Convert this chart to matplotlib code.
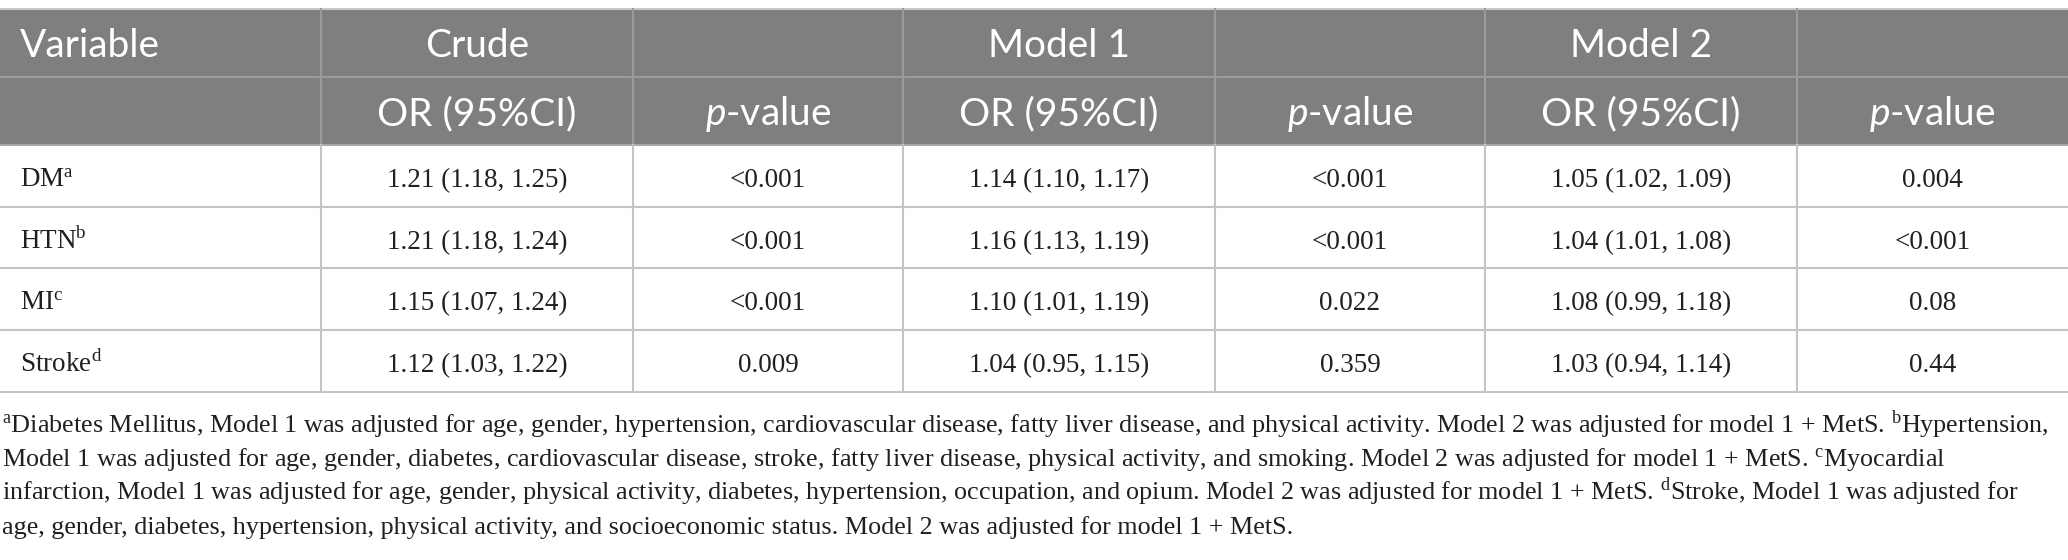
import matplotlib
matplotlib.use("Agg")
import matplotlib.pyplot as plt
from matplotlib.patches import Rectangle

# ---- table content ----
variables = ["DM", "HTN", "MI", "Stroke"]
var_marks = ["a", "b", "c", "d"]
crude_or = ["1.21 (1.18, 1.25)", "1.21 (1.18, 1.24)", "1.15 (1.07, 1.24)", "1.12 (1.03, 1.22)"]
crude_p = ["<0.001", "<0.001", "<0.001", "0.009"]
model1_or = ["1.14 (1.10, 1.17)", "1.16 (1.13, 1.19)", "1.10 (1.01, 1.19)", "1.04 (0.95, 1.15)"]
model1_p = ["<0.001", "<0.001", "0.022", "0.359"]
model2_or = ["1.05 (1.02, 1.09)", "1.04 (1.01, 1.08)", "1.08 (0.99, 1.18)", "1.03 (0.94, 1.14)"]
model2_p = ["0.004", "<0.001", "0.08", "0.44"]
group_labels = ["Crude", "Model 1", "Model 2"]
sub_labels = ["OR (95%CI)", r"$\mathit{p}$-value"]

footnote_lines = [
    r"$^{\mathrm{a}}$Diabetes Mellitus, Model 1 was adjusted for age, gender, hypertension, cardiovascular disease, "
    r"fatty liver disease, and physical activity. Model 2 was adjusted for model 1 + MetS. $^{\mathrm{b}}$Hypertension,",
    r"Model 1 was adjusted for age, gender, diabetes, cardiovascular disease, stroke, fatty liver disease, "
    r"physical activity, and smoking. Model 2 was adjusted for model 1 + MetS. $^{\mathrm{c}}$Myocardial",
    r"infarction, Model 1 was adjusted for age, gender, physical activity, diabetes, hypertension, occupation, "
    r"and opium. Model 2 was adjusted for model 1 + MetS. $^{\mathrm{d}}$Stroke, Model 1 was adjusted for",
    r"age, gender, diabetes, hypertension, physical activity, and socioeconomic status. "
    r"Model 2 was adjusted for model 1 + MetS.",
]

# ---- layout (pixels) ----
W, H = 2068, 560
col_edges = [0, 321, 633, 903, 1215, 1485, 1797, 2068]
header_rows = [9, 77, 145]
data_rows = [145, 207, 268, 330, 392]
foot_baselines = [433, 467, 500, 534]

HEAD_BG = "#7f807e"
HEAD_LINE = "#9b9c9a"
GRID = "#c4c4c4"
TEXT = "#231f20"

plt.rcParams["mathtext.fontset"] = "custom"
plt.rcParams["mathtext.rm"] = "Liberation Serif"
plt.rcParams["mathtext.it"] = "Lato:italic"

SANS = "Lato"
SERIF = "Liberation Serif"
head_fs = 28
body_fs = 19.5
foot_fs = 18.8

fig = plt.figure(figsize=(W / 100, H / 100), dpi=100)
ax = fig.add_axes([0, 0, 1, 1])
ax.set_xlim(0, W)
ax.set_ylim(H, 0)
ax.axis("off")

# header background
ax.add_patch(Rectangle((0, header_rows[0]), W, header_rows[-1] - header_rows[0],
                       facecolor=HEAD_BG, edgecolor="none", zorder=1))

# grid lines
ax.plot([0, W], [header_rows[0]] * 2, color="#c8c8c8", lw=1.5, zorder=2)
ax.plot([0, W], [header_rows[1]] * 2, color=HEAD_LINE, lw=1.5, zorder=2)
ax.plot([0, W], [header_rows[2]] * 2, color="#a8a8a8", lw=1.5, zorder=2)
for y in data_rows[1:]:
    ax.plot([0, W], [y, y], color=GRID, lw=1.5, zorder=2)
for x in col_edges[1:-1]:
    ax.plot([x, x], [header_rows[0], header_rows[-1]], color=HEAD_LINE, lw=1.5, zorder=2)
    ax.plot([x, x], [data_rows[0], data_rows[-1]], color=GRID, lw=1.5, zorder=2)

centers = [(col_edges[i] + col_edges[i + 1]) / 2 for i in range(len(col_edges) - 1)]

# header row 1
ax.text(20, header_rows[0] + 48, "Variable", ha="left", va="baseline",
        fontsize=head_fs, family=SANS, color="white", zorder=3)
for i, lab in enumerate(group_labels):
    ax.text(centers[1 + 2 * i], header_rows[0] + 48, lab, ha="center", va="baseline",
            fontsize=head_fs, family=SANS, color="white", zorder=3)

# header row 2
for i in range(3):
    for j, lab in enumerate(sub_labels):
        ax.text(centers[1 + 2 * i + j], header_rows[1] + 48, lab, ha="center", va="baseline",
                fontsize=head_fs, family=SANS, color="white", zorder=3)

# body
columns = [crude_or, crude_p, model1_or, model1_p, model2_or, model2_p]
for r, (name, mark) in enumerate(zip(variables, var_marks)):
    yb = data_rows[r] + 42
    ax.text(20, yb, name + r"$^{\mathrm{" + mark + "}}$", ha="left", va="baseline",
            fontsize=body_fs, family=SERIF, color=TEXT, zorder=3)
    for c, col in enumerate(columns):
        ax.text(centers[c + 1], yb, col[r], ha="center", va="baseline",
                fontsize=body_fs, family=SERIF, color=TEXT, zorder=3)

# footnote
for yb, line in zip(foot_baselines, footnote_lines):
    ax.text(2, yb, line, ha="left", va="baseline", fontsize=foot_fs,
            family=SERIF, color=TEXT, zorder=3)

fig.savefig("out.png", dpi=100)
plt.close(fig)
